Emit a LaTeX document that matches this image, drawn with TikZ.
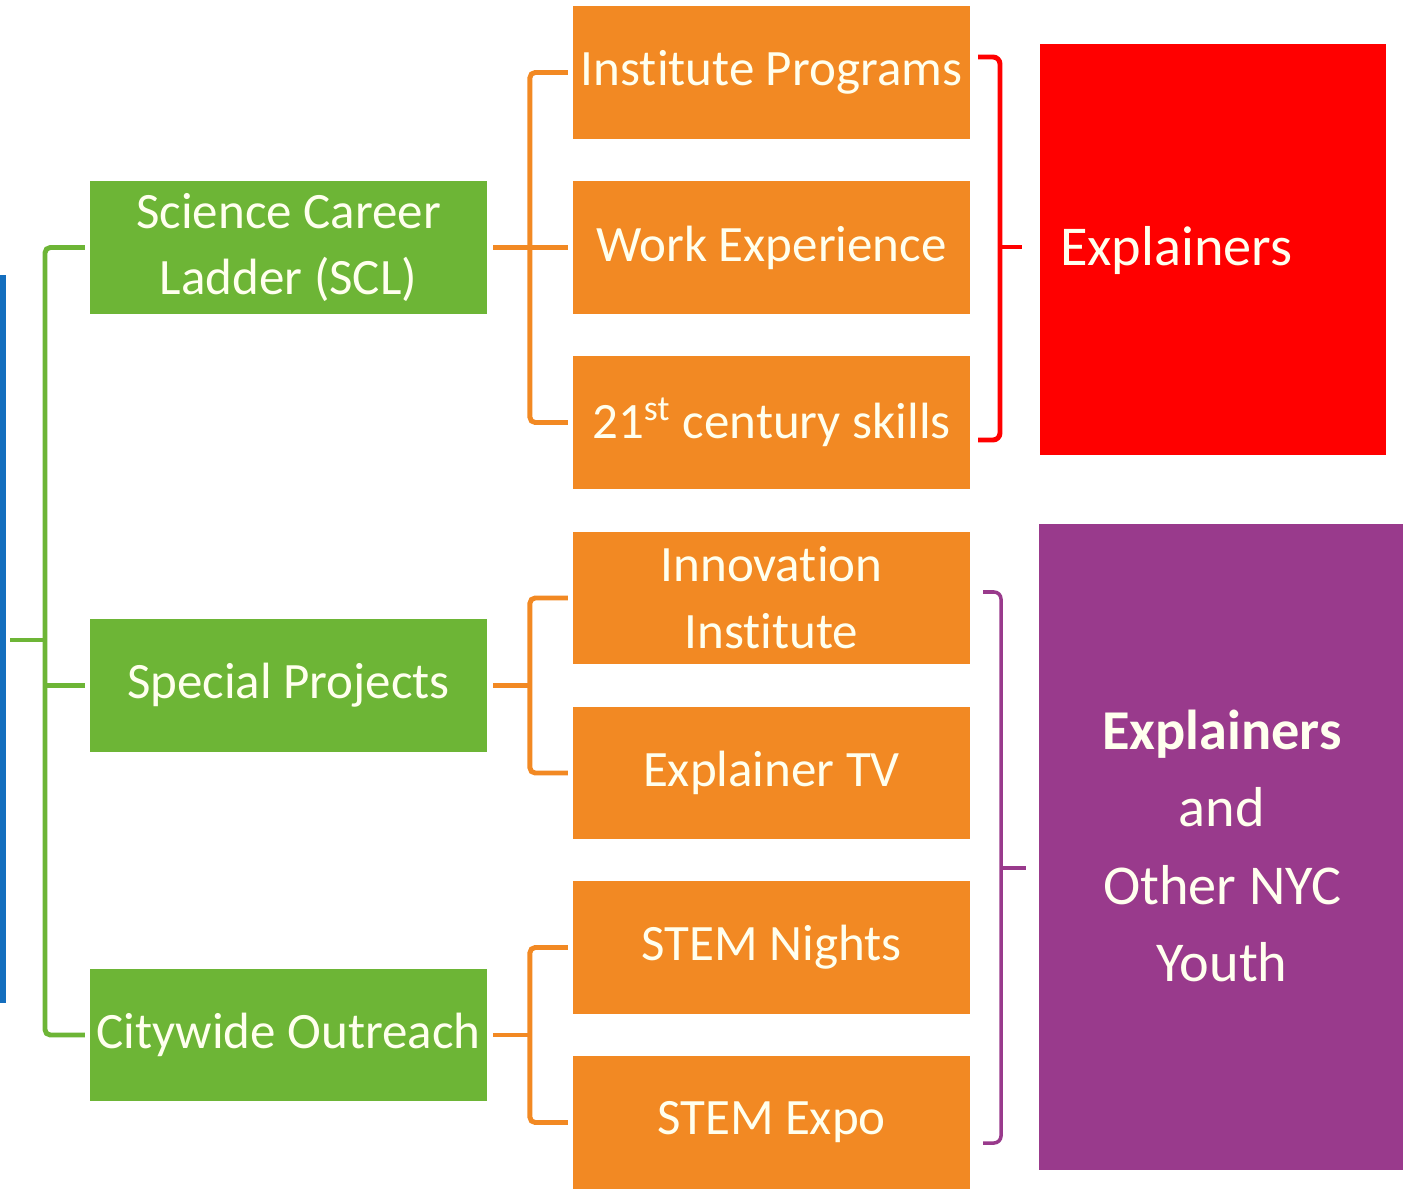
\documentclass[tikz,border=0pt]{standalone}
\usepackage{fontspec}
\setmainfont{Carlito}[Ligatures=NoCommon]
\usetikzlibrary{positioning}
\usetikzlibrary{calc}
\definecolor{G}{RGB}{109,181,54}
\definecolor{O}{RGB}{242,137,35}
\definecolor{R}{RGB}{255,0,0}
\definecolor{P}{RGB}{153,58,140}
\definecolor{B}{RGB}{20,110,190}
\definecolor{ink}{RGB}{255,255,238}
\tikzstyle{base}=[x=0.01cm, y=-0.01cm, inner sep=0pt, outer sep=0pt]
\tikzstyle{gbox}=[fill=G, text=ink, minimum width=3.97cm, minimum height=1.32cm, align=center,
  font=\fontsize{14.5}{19}\selectfont]
\tikzstyle{obox}=[fill=O, text=ink, minimum width=3.97cm, minimum height=1.32cm, align=center,
  font=\fontsize{14.5}{19}\selectfont]
\tikzstyle{gline}=[G, line width=1.4pt, rounded corners=1.5pt]
\tikzstyle{oline}=[O, line width=1.4pt, rounded corners=1.5pt]

\begin{document}
\begin{tikzpicture}[base]
    \path [use as bounding box] (0,0) rectangle (1403,1197);
        % blue edge
        \fill [B] (0,275) rectangle (6,1003);
        % green column
        \node [gbox] (scl) at (288.5,247.5) {Science Career\\Ladder (SCL)};
        \node [gbox] (sp) at (288.5,685.5) {Special Projects};
        \node [gbox] (cwo) at (288.5,1035) {Citywide Outreach};
        % orange column
        \node [obox] (ip) at (771.5,72.5) {Institute Programs};
        \node [obox] (we) at (771.5,247.5) {Work Experience};
        \node [obox] (cs) at (771.5,422.5) {21\textsuperscript{st} century skills};
        \node [obox] (ii) at (771.5,598) {Innovation\\Institute};
        \node [obox] (tv) at (771.5,773) {Explainer TV};
        \node [obox] (sn) at (771.5,947.5) {STEM Nights};
        \node [obox] (se) at (771.5,1122.5) {STEM Expo};
        % green tree
        \coordinate (root) at (10,640);
        \coordinate (gs) at (45,640);
        \draw [gline] ($(scl.west)+(-5,0)$) -| (gs) |- ($(cwo.west)+(-5,0)$);
        \draw [gline] (root) -- (gs);
        \draw [gline] ($(sp.west)+(-5,0)$) -- (sp.west -| gs);
        % orange trees
        \draw [oline] ($(ip.west)+(-5,0)$) -| ($(cs.west)+(-43,0)$) -- ($(cs.west)+(-5,0)$);
        \draw [oline] ($(scl.east)+(6,0)$) -- ($(we.west)+(-5,0)$);
        \draw [oline] ($(ii.west)+(-5,0)$) -| ($(tv.west)+(-43,0)$) -- ($(tv.west)+(-5,0)$);
        \draw [oline] ($(sp.east)+(6,0)$) -- (sp.east -| 530,0);
        \draw [oline] ($(sn.west)+(-5,0)$) -| ($(se.west)+(-43,0)$) -- ($(se.west)+(-5,0)$);
        \draw [oline] ($(cwo.east)+(6,0)$) -- (cwo.east -| 530,0);
        % audience boxes
        \fill [R] (1040,44) rectangle (1386,455);
        \node [text=ink, anchor=west, font=\fontsize{16}{20}\selectfont] (expl) at (1060,250) {Explainers};
        \fill [P] (1039,524) rectangle (1403,1170);
        \node [text=ink, align=center, font=\fontsize{16}{22}\selectfont] (youth) at (1222,846)
            {\textbf{Explainers}\\and\\Other NYC\\Youth};
        % braces
        \draw [R, line width=1.4pt, rounded corners=2pt] (978,57) -- (1000,57) -- (1000,440) -- (978,440);
        \draw [R, line width=1.4pt] (1000,247) -- (1022,247);
        \draw [P, line width=1pt, rounded corners=2pt] (983,592) -- (1001,592) -- (1001,1143) -- (983,1143);
        \draw [P, line width=1pt] (1001,868) -- (1026,868);
    \end{tikzpicture}
\end{document}
